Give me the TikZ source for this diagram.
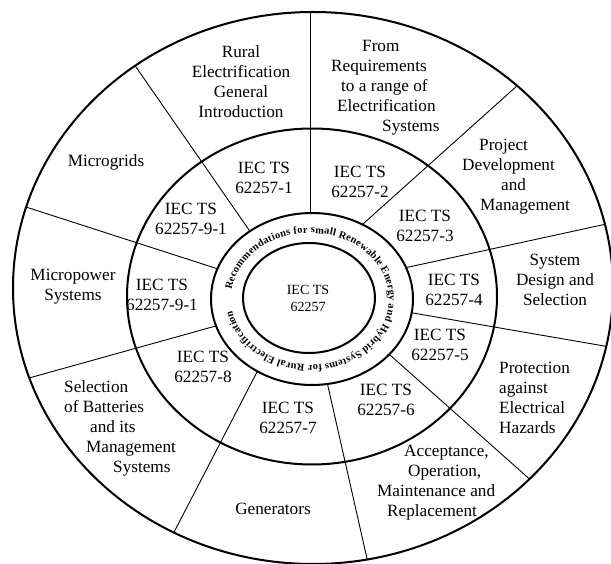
\documentclass[tikz,border=0pt]{standalone}
\usepackage{fontspec}
\setmainfont{Liberation Serif}
\usetikzlibrary{decorations.text}

\begin{document}
\begin{tikzpicture} [x=1pt, y=-1pt,
	ringline/.style={line width=2pt},
	spokeline/.style={line width=0.9pt},
	topictext/.style={font=\fontsize{17.2}{20}\selectfont, inner sep=0pt},
	parttext/.style={topictext, align=center}]

		\useasboundingbox (0,0) rectangle (611,564);

		\fill [white] (0,0) rectangle (611,564);

		\clip (0,0) rectangle (611,564);

		% spokes, only between the lettered ring and the outer ellipse
		\begin{scope}[even odd rule]
		\clip (313,288) ellipse [x radius=300, y radius=276];
		\clip (-50,-50) rectangle (700,650) (312,299) ellipse [x radius=101, y radius=86];

		\draw [spokeline] (310,0) -- (310,260);

		\draw [spokeline] (124.7,50.7) -- (266,254.5);

		\draw [spokeline] (533.4,71.2) -- (341,243.7);

		\draw [spokeline] (10.7,202.1) -- (239.5,275.9);

		\draw [spokeline] (631.2,218.6) -- (378.7,273.6);

		\draw [spokeline] (10.7,383.1) -- (239.5,319.4);

		\draw [spokeline] (629.7,350.4) -- (383.5,307.9);

		\draw [spokeline] (162.4,554.6) -- (269.9,347.1);

		\draw [spokeline] (372.1,581.1) -- (320.9,354.9);

		\draw [spokeline] (548.4,495.8) -- (368.4,335.8);
		\end{scope}

		% ellipses
		\draw [ringline] (313,288) ellipse [x radius=300, y radius=276];

		\draw [ringline] (312,296.5) ellipse [x radius=185, y radius=168];

		\draw [ringline] (312,299) ellipse [x radius=101, y radius=86];

		\draw [ringline] (309,298) ellipse [x radius=66, y radius=55];

		% lettering round the ring
		\path [decorate, decoration={text along path, text align=fit to path,
			text={|\bfseries\fontsize{10.4}{12}\selectfont|Recommendations for small Renewable Energy and Hybrid Systems for Rural Electrification}}]
			(310,299) ++(188:79 and 66) arc [start angle=188, end angle=530, x radius=79, y radius=66];

		% centre
		\node[parttext, font=\fontsize{14}{17}\selectfont] (core) at (308,298)%
		{IEC TS\\62257};

		% middle band
		\node[parttext] (ts1) at (264,178)%
		{IEC TS\\62257-1};

		\node[parttext] (ts2) at (360,182)%
		{IEC TS\\62257-2};

		\node[parttext] (ts3) at (425,226)%
		{IEC TS\\62257-3};

		\node[parttext] (ts4) at (454,290)%
		{IEC TS\\62257-4};

		\node[parttext] (ts5) at (440,345)%
		{IEC TS\\62257-5};

		\node[parttext] (ts6) at (386,400)%
		{IEC TS\\62257-6};

		\node[parttext] (ts7) at (288,418)%
		{IEC TS\\62257-7};

		\node[parttext] (ts8) at (203,367)%
		{IEC TS\\62257-8};

		\node[parttext] (ts9a) at (162,295)%
		{IEC TS\\62257-9-1};

		\node[parttext] (ts9b) at (191,219)%
		{IEC TS\\62257-9-1};

		% outer band
		\node[parttext] (rural) at (241,82)%
		{Rural\\Electrification\\General\\Introduction};

		\node[topictext, align=left, anchor=west] (require) at (331,88)%
		{\hspace*{31pt}From\\Requirements\\\hspace*{10pt}to a range of\\\hspace*{6pt}Electrification\\\hspace*{51pt}Systems};

		\node[topictext, align=left, anchor=west] (project) at (462,177)%
		{\hspace*{17pt}Project\\Development\\\hspace*{39pt}and\\\hspace*{18pt}Management};

		\node[parttext] (design) at (555,280)%
		{System\\Design and\\Selection};

		\node[topictext, align=left, anchor=west] (protect) at (499,397.5)%
		{Protection\\against\\Electrical\\Hazards};

		\node[topictext, align=left, anchor=west] (accept) at (377,482.5)%
		{\hspace*{27pt}Acceptance,\\\hspace*{31pt}Operation,\\Maintenance and\\\hspace*{10pt}Replacement};

		\node[parttext] (generate) at (273,509)%
		{Generators};

		\node[topictext, align=left, anchor=west] (battery) at (64,428)%
		{Selection\\of Batteries\\\hspace*{26pt}and its\\\hspace*{22pt}Management\\\hspace*{49pt}Systems};

		\node[parttext] (micropower) at (73,287)%
		{Micropower\\Systems};

		\node[parttext] (microgrid) at (106,162)%
		{Microgrids};
	\end{tikzpicture}
\end{document}
